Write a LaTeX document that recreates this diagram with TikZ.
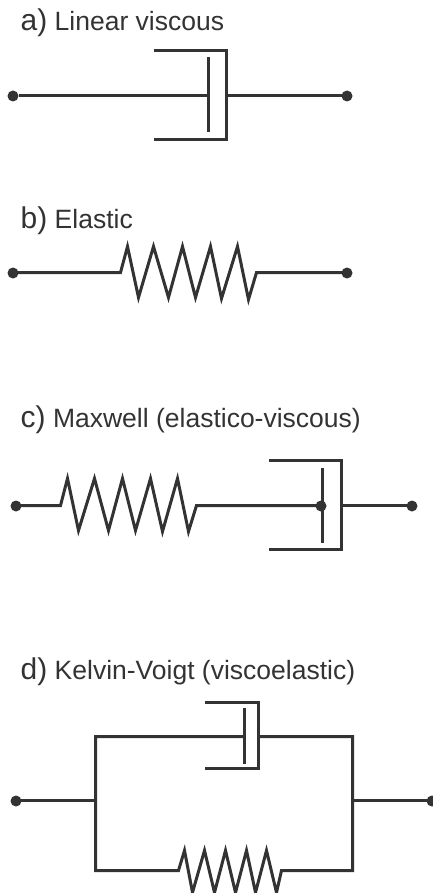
\documentclass[tikz,border=0pt]{standalone}
\usepackage{fontspec}
\setmainfont{Liberation Sans}
\definecolor{ink}{HTML}{333333}
\tikzset{
  wire/.style={draw=ink,line width=3pt,line join=miter,miter limit=10},
  terminal/.style={circle,fill=ink,inner sep=0pt,minimum size=11pt},
  lab/.style={anchor=base west,inner sep=0pt,text=ink,font=\fontsize{26.5}{28}\selectfont}
}
\begin{document}
\begin{tikzpicture}[x=1pt,y=-1pt]
\useasboundingbox (0,0) rectangle (433,893);
\clip (0,0) rectangle (433,893);
\begin{scope}[shift={(-0.5,-0.5)}]
% a
\node[lab] (la) at (21,31.5) {{\fontsize{30}{32}\selectfont a)} Linear viscous};
\node[terminal] (a1) at (13.5,96.5) {};
\node[terminal] (a2) at (347.5,96.5) {};
\coordinate (ap) at (209,96);
\coordinate (ac) at (227,96);
\draw[wire] (a1) -- (a1 -| ap);
\draw[wire] (ac) -- (ac -| a2);
\draw[wire] (154,51) -- (227,51) -- (227,140) -- (154,140);
\draw[wire] (ap |- 0,58) -- (ap |- 0,133);
% b
\node[lab] (lb) at (21,229.5) {{\fontsize{30}{32}\selectfont b)} Elastic};
\node[terminal] (b1) at (13.5,273.5) {};
\node[terminal] (b2) at (347.5,273.5) {};
\coordinate (bs) at (121,273);
\coordinate (be) at (257,273);
\draw[wire] (b1 |- bs) -- (bs) -- (128,247) -- (139,298) -- (154,247) -- (169,298) -- (183,247) -- (196,298) -- (211,247) -- (222,299) -- (238,247) -- (249,300) -- (be) -- (be -| b2);
% c
\node[lab] (lc) at (21,427.5) {{\fontsize{30}{32}\selectfont c)} Maxwell (elastico-viscous)};
\node[terminal] (c1) at (16.5,506.5) {};
\node[terminal] (c2) at (412.5,506.5) {};
\node[terminal] (c3) at (321.5,506.5) {};
\coordinate (cc) at (342,506);
\draw[wire] (16,506) -- (61,506) -- (68,479) -- (79,531) -- (95,479) -- (109,531) -- (123,479) -- (136,531) -- (151,479) -- (163,532) -- (178,479) -- (189,532) -- (197,506) -- (321,506);
\draw[wire] (cc) -- (cc -| c2);
\draw[wire] (269,461) -- (342,461) -- (342,550) -- (269,550);
\draw[wire] (323,468) -- (323,543);
% d
\node[lab] (ld) at (21,679.5) {{\fontsize{30}{32}\selectfont d)} Kelvin-Voigt (viscoelastic)};
\node[terminal] (d1) at (16.5,801.5) {};
\node[terminal] (d2) at (432.5,801.5) {};
\coordinate (dl) at (96,801);
\coordinate (dr) at (353,801);
\draw[wire] (dl -| d1) -- (dl);
\draw[wire] (dr) -- (dr -| d2);
\draw[wire] (245,737) -- (96,737) -- (96,871) -- (179,871) -- (185,851) -- (193,893) -- (205,851) -- (215,893) -- (226,851) -- (236,893) -- (247,851) -- (256,893) -- (267,851) -- (277,893) -- (282,871) -- (353,871) -- (353,737) -- (259,737);
\draw[wire] (205,703) -- (259,703) -- (259,769) -- (205,769);
\draw[wire] (245,708) -- (245,764);
\end{scope}
\end{tikzpicture}
\end{document}
